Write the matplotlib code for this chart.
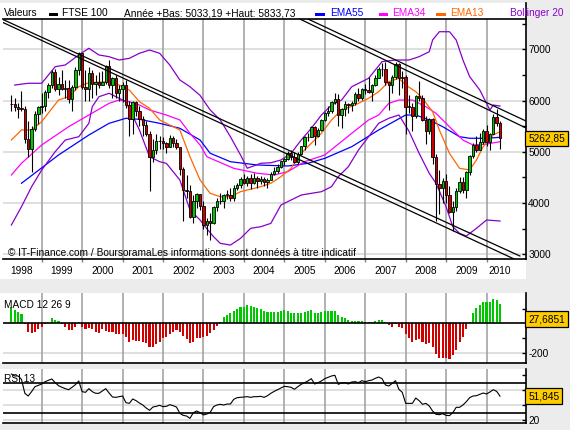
import matplotlib
matplotlib.use("Agg")
import matplotlib.pyplot as plt
from matplotlib.patches import Rectangle
from matplotlib.lines import Line2D
import matplotlib.transforms as mtransforms

plt.rcParams['font.family'] = ['Liberation Sans', 'DejaVu Sans']

# ---------------- data (monthly FTSE 100, Apr 1998 .. May 2010) ----------------
first_month = 3          # months since Jan 1998 (Apr 1998)
years = list(range(1998, 2011))

opens = [5932, 5928, 5870, 5833, 5837, 5249, 5064, 5438, 5743,
         5883, 5896, 6175, 6296, 6552, 6226, 6318, 6231, 6246, 6030, 6255, 6597,
         6930, 6269, 6233, 6540, 6327, 6359, 6313, 6365, 6673, 6294, 6438, 6142,
         6223, 6297, 5918, 5634, 5967, 5796, 5643, 5529, 5345, 4903, 5040, 5204,
         5217, 5165, 5102, 5272, 5166, 5086, 4656, 4246, 4227, 3722, 4039, 4169,
         3940, 3567, 3656, 3613, 3926, 4048, 4031, 4157, 4162, 4091, 4288, 4343,
         4477, 4390, 4492, 4386, 4489, 4431, 4464, 4413, 4459, 4571, 4624, 4703,
         4814, 4852, 4968, 4894, 4801, 4964, 5113, 5282, 5296, 5478, 5317, 5423,
         5619, 5760, 5792, 5965, 6023, 5723, 5833, 5928, 5907, 5961, 6129, 6049,
         6221, 6203, 6172, 6308, 6449, 6621, 6608, 6360, 6303, 6467, 6722, 6432,
         6457, 5880, 5884, 5702, 6087, 6054, 5626, 5412, 5637, 4902, 4377, 4288,
         4434, 4150, 3830, 3926, 4244, 4418, 4249, 4608, 4909, 5134, 5045, 5191,
         5413, 5189, 5355, 5680, 5553]
highs = [6105, 6058, 5950, 6183, 5900, 5600, 5500, 5800, 5900,
         6150, 6200, 6350, 6600, 6620, 6450, 6600, 6400, 6400, 6300, 6650, 6950,
         6930, 6600, 6650, 6600, 6500, 6550, 6570, 6700, 6800, 6450, 6500, 6300,
         6360, 6400, 5990, 6000, 6000, 5900, 5700, 5600, 5400, 5250, 5350, 5300,
         5280, 5200, 5330, 5300, 5250, 5100, 4700, 4550, 4350, 4150, 4200, 4180,
         4050, 3700, 3800, 3950, 4100, 4200, 4170, 4250, 4300, 4350, 4400, 4500,
         4560, 4530, 4560, 4580, 4530, 4530, 4500, 4480, 4610, 4700, 4770, 4830,
         4880, 5010, 5030, 5000, 4990, 5120, 5300, 5370, 5500, 5500, 5460, 5640,
         5780, 5890, 5990, 6140, 6137, 5850, 5990, 5950, 6000, 6170, 6250, 6250,
         6320, 6460, 6330, 6500, 6650, 6730, 6750, 6370, 6500, 6750, 6730, 6580,
         6500, 6100, 5950, 6100, 6380, 6100, 5700, 5660, 5650, 4950, 4650, 4480,
         4560, 4340, 4050, 4300, 4510, 4510, 4620, 4930, 5170, 5300, 5370, 5440,
         5530, 5370, 5740, 5834, 5600]
lows = [5800, 5800, 5650, 5800, 5170, 4900, 4610, 5400, 5550,
        5750, 5800, 6050, 6250, 6180, 6100, 6200, 6050, 5950, 5800, 6200, 6500,
        6220, 6000, 6000, 6050, 6100, 6250, 6300, 6330, 6250, 6050, 6050, 6000,
        5980, 5850, 5300, 5350, 5700, 5500, 5300, 5300, 4230, 4800, 4950, 5050,
        5050, 4980, 5090, 5100, 5050, 4550, 3650, 4100, 3700, 3610, 3900, 3870,
        3490, 3380, 3277, 3600, 3850, 3990, 3900, 4070, 4050, 4050, 4250, 4300,
        4370, 4340, 4280, 4370, 4300, 4380, 4330, 4300, 4450, 4550, 4590, 4690,
        4750, 4840, 4850, 4790, 4770, 4930, 5040, 5220, 5290, 5130, 5290, 5400,
        5600, 5700, 5760, 5930, 5500, 5470, 5700, 5760, 5800, 5920, 6000, 6020,
        6130, 6150, 5990, 6290, 6440, 6480, 6300, 5820, 6150, 6420, 6100, 6250,
        5340, 5750, 5410, 5650, 6000, 5600, 5150, 5350, 4770, 3660, 3780, 4000,
        4000, 3800, 3460, 3850, 4200, 4200, 4090, 4550, 4880, 4990, 5030, 5160,
        5120, 5033, 5340, 5500, 5050]
closes = [5928, 5870, 5833, 5837, 5249, 5064, 5438, 5743, 5883,
          5896, 6175, 6296, 6552, 6226, 6318, 6231, 6246, 6030, 6255, 6597, 6930,
          6269, 6233, 6540, 6327, 6359, 6313, 6365, 6673, 6294, 6438, 6142, 6223,
          6297, 5918, 5634, 5967, 5796, 5643, 5529, 5345, 4903, 5040, 5204, 5217,
          5165, 5102, 5272, 5166, 5086, 4656, 4246, 4227, 3722, 4039, 4169, 3940,
          3567, 3656, 3613, 3926, 4048, 4031, 4157, 4162, 4091, 4288, 4343, 4477,
          4390, 4492, 4386, 4489, 4431, 4464, 4413, 4459, 4571, 4624, 4703, 4814,
          4852, 4968, 4894, 4801, 4964, 5113, 5282, 5296, 5478, 5317, 5423, 5619,
          5760, 5792, 5965, 6023, 5723, 5833, 5928, 5907, 5961, 6129, 6049, 6221,
          6203, 6172, 6308, 6449, 6621, 6608, 6360, 6303, 6467, 6722, 6432, 6457,
          5880, 5884, 5702, 6087, 6054, 5626, 5412, 5637, 4902, 4377, 4288, 4434,
          4150, 3830, 3926, 4244, 4418, 4249, 4608, 4909, 5134, 5045, 5191, 5413,
          5189, 5355, 5680, 5553, 5263]

ema55_m = [6, 17, 26, 32, 37, 41, 47, 53, 59, 62, 68, 76, 85, 91, 96, 104, 112, 120, 123, 127, 131, 136, 139, 144, 148]
ema55_v = [4386, 4938, 5328, 5556, 5654, 5634, 5556, 5459, 5230, 4971, 4807, 4743, 4723, 4776, 4873, 5100, 5426, 5718, 5718, 5621, 5490, 5295, 5264, 5264, 5283]

ema34_m = [3, 6, 12, 20, 26, 32, 35, 38, 41, 44, 49, 53, 56, 59, 61, 69, 76, 81, 85, 90, 96, 104, 109, 112, 115, 118, 122, 126, 129, 133, 137, 140, 144, 148]
ema34_v = [4547, 4776, 5133, 5490, 5718, 5946, 6011, 5978, 5913, 5816, 5718, 5621, 5361, 5133, 4905, 4678, 4581, 4548, 4612, 4807, 4938, 5361, 5621, 5718, 5946, 6011, 6011, 5880, 5751, 5490, 5230, 5133, 5152, 5197]

ema13_m = [3, 6, 9, 12, 17, 20, 23, 26, 32, 35, 38, 41, 44, 47, 50, 53, 56, 59, 62, 65, 68, 71, 77, 80, 83, 86, 89, 92, 95, 98, 101, 105, 109, 112, 115, 118, 120, 123, 125, 128, 130, 133, 136, 139, 141, 143, 146, 148]
ema13_v = [5230, 5426, 5426, 5588, 6011, 6075, 6270, 6348, 6368, 6303, 6206, 5978, 5849, 5621, 5523, 5426, 4905, 4450, 4190, 4124, 4124, 4222, 4320, 4386, 4515, 4678, 4971, 5166, 5361, 5621, 5816, 5913, 6044, 6173, 6368, 6434, 6303, 6173, 6044, 5783, 5426, 4971, 4678, 4646, 4840, 5100, 5328, 5393]

boll_up_m = [4, 8, 12, 16, 19, 23, 26, 29, 32, 35, 38, 41, 44, 47, 50, 53, 56, 59, 62, 65, 68, 71, 73, 77, 80, 83, 86, 89, 92, 95, 98, 101, 104, 109, 113, 117, 121, 124, 127, 128, 130, 133, 135, 137, 139, 142, 144, 145, 146, 148]
boll_up_v = [6303, 6337, 6337, 6660, 6694, 6889, 7020, 6889, 6856, 6791, 6824, 6922, 6986, 6922, 6694, 6401, 6270, 6100, 5816, 5621, 5295, 4938, 4680, 4776, 4787, 4840, 4971, 5230, 5459, 5718, 5913, 6011, 6270, 6434, 6759, 6791, 6791, 6856, 6953, 7181, 7343, 7343, 7181, 6791, 6466, 6206, 5946, 5816, 5913, 5893]

boll_lo_m = [3, 6, 9, 12, 16, 19, 23, 26, 27, 29, 32, 37, 41, 44, 47, 49, 53, 56, 59, 61, 63, 65, 68, 71, 74, 77, 80, 83, 86, 89, 92, 95, 98, 100, 103, 106, 109, 112, 115, 118, 121, 124, 127, 129, 132, 134, 136, 138, 141, 144, 148]
boll_lo_v = [3572, 3929, 4319, 4645, 5002, 5230, 5295, 5556, 5880, 6075, 6142, 5978, 5426, 4905, 4807, 4775, 4450, 3864, 3670, 3500, 3344, 3214, 3181, 3312, 3507, 3539, 3604, 3962, 4060, 4157, 4190, 4222, 4320, 4515, 4710, 5035, 5295, 5556, 5654, 5718, 5400, 4971, 4581, 4386, 3929, 3539, 3409, 3357, 3507, 3670, 3650]

macd_hist = [113, 91, 75, 63, -3, -57, -68, -57, -41, -27,
             -7, 7, 34, 23, 16, -2, -23, -45, -45, -23,
             9, -23, -41, -34, -41, -57, -63, -41, -50, -57,
             -57, -75, -75, -75, -91, -125, -113, -118, -118, -129,
             -136, -159, -159, -141, -125, -102, -91, -75, -57, -45,
             -57, -86, -109, -136, -125, -102, -102, -91, -86, -68,
             -45, -16, 11, 45, 57, 68, 86, 98, 109, 113,
             125, 118, 109, 102, 95, 82, 79, 79, 79, 79,
             86, 91, 86,
             73, 73, 73, 73, 79, 86, 91, 68, 68, 79,
             86, 86, 86, 86, 57, 45, 34, 23, 18, 18,
             16, 16, 11, 11, 9, 18, 23, 23, 9,
             -11, -23, -7, -23, -29, -73, -98, -125, -113, -109,
             -125, -141, -136, -163, -211, -238, -234, -234, -243, -215,
             -181, -125, -91, -41, 11, 68, 102, 125, 143, 143,
             143, 163, 159, 132]
macd_last = 27.6851

rsi13 = [81.3, 78.7, 78.7, 74.2, 55.6, 52, 57.8, 64.4, 66.2, 68,
         71.1, 72.9, 74.7, 69.8, 65.8, 63.6, 61.8, 60.4, 63.6, 67.1,
         72, 57.8, 56.9, 61.8, 57.8, 55.6, 55.6, 58.7, 61.8, 56,
         50.7, 50.2, 51.1, 52, 43.1, 42.2, 48, 45.8, 42.7, 40,
         36, 32.9, 37.3, 38.2, 39.6, 37.8, 38.2, 40.4, 39.1, 37.3,
         28.9, 26.2, 25.3, 22.2, 29.8, 32, 29.8, 26.7, 28, 30.2,
         37.8, 40, 40.9, 40, 41.3, 41.3, 47.6, 49.8, 50.2, 50.7,
         51.1, 50.2, 51.1, 51.1, 51.6, 50.2, 52.4, 55.6, 58.2, 60.4,
         62.7, 64.9, 64.4,
         63.6, 60.9, 64.4, 67.6, 69.8, 72, 75.1, 68, 69.8, 72,
         75.1, 76.9, 78.7, 79.6, 67.6, 69.3, 69.8, 68, 70.7, 71.1,
         69.8, 72.4, 71.1, 72.4, 73.3, 75.6, 77.3, 75.1, 66.7, 65.3,
         68.9, 72.4, 60.9, 56.9, 42.2, 42.2, 42.2, 49.3, 45.8, 40.9,
         42.2, 38.7, 32, 27.6, 27.1, 28.4, 26.2, 25.8, 29.8, 36.9,
         36.9, 40, 44.4, 49.8, 52, 52.4, 54.2, 56, 54.7, 57.3,
         60.4, 58.2, 51.845]
rsi_last = 51.845
last_close = 5262.85

# channel lines (month, value) end points
chan1a = ([0.5, 153.9], [7581, 2967])
chan1b = ([0.5, 152.2], [7523, 2909])
chan2a = ([91.0, 155.7], [7591, 5601])
chan2b = ([88.6, 155.7], [7591, 5465])

# ---------------- layout helpers ----------------
W, H = 570, 430
fig = plt.figure(figsize=(W / 100, H / 100), dpi=100)
fig.patch.set_facecolor('#ececec')


def rect(x0, y0, x1, y1):
    return [x0 / W, 1 - y1 / H, (x1 - x0) / W, (y1 - y0) / H]


def fig_rect(x0, y0, x1, y1, color, z=-5):
    fig.patches.append(Rectangle((x0 / W, 1 - y1 / H), (x1 - x0) / W, (y1 - y0) / H,
                                 transform=fig.transFigure, facecolor=color,
                                 edgecolor='none', zorder=z))


def ftext(x, y, s, **kw):
    kw.setdefault('fontsize', 7.3)
    fig.text(x / W, 1 - y / H, s, va='center', ha=kw.pop('ha', 'left'), **kw)


for box in [(0, 3, 526, 279), (0, 293, 526, 363), (0, 369, 526, 423.5)]:
    fig_rect(*box, color='white')

PX0, PXM = 1.25, 3.37          # pixel of Jan 1998, pixels per month
xl = ((3 - PX0) / PXM, (526 - PX0) / PXM)
months = list(range(first_month, first_month + len(closes)))
year_starts = [12 * (y - 1998) for y in years]

GREEN, RED = '#00c800', '#d00000'
GRID_V = '#a4a4a4'
GRID_H = '#dcdcdc'
BOX = '#ffcc00'


def base_axes(r, ylim):
    ax = fig.add_axes(rect(*r))
    ax.set_facecolor('none')
    ax.set_xlim(*xl)
    ax.set_ylim(*ylim)
    for s in ['left', 'top']:
        ax.spines[s].set_visible(False)
    for s in ['right', 'bottom']:
        ax.spines[s].set_color('black')
        ax.spines[s].set_linewidth(1.2)
    for xs in year_starts[1:]:
        ax.axvline(xs, color=GRID_V, lw=1.2, zorder=0.5)
    ax.yaxis.tick_right()
    ax.tick_params(axis='y', direction='in', length=3, width=1, color='black',
                   labelsize=7.3, pad=1.5)
    ax.set_xticks([])
    return ax


def value_box(ax, y, s):
    tr = mtransforms.blended_transform_factory(ax.transAxes, ax.transData)
    ax.text(1.0 + 2.2 / 523, y, s, transform=tr, ha='left', va='center', fontsize=7.3,
            bbox=dict(boxstyle='square,pad=0.28', fc=BOX, ec='black', lw=0.9),
            zorder=10, clip_on=False)


# ---------------- main price panel ----------------
ax = base_axes((3, 19, 526, 259), (2909, 7591))
ax.spines['top'].set_visible(True)
ax.spines['top'].set_color('black')
ax.spines['top'].set_linewidth(1.2)
for v in [3000, 4000, 5000, 6000, 7000]:
    ax.axhline(v, color=GRID_H, lw=1.3, zorder=0.4)
ax.set_yticks([3000, 4000, 5000, 6000, 7000])
ax.set_yticklabels(['3000', '4000', '5000', '6000', '7000'])
ax.set_yticks([3500, 4500, 5500, 6500, 7500], minor=True)
ax.tick_params(axis='y', which='minor', direction='in', length=3, width=1)
ax.set_xticks(year_starts[1:])
ax.set_xticklabels([])
ax.tick_params(axis='x', direction='out', length=2.5, width=1, color='#808080')

ax.plot(ema55_m, ema55_v, color='#0000ff', lw=0.9, zorder=2)
ax.plot(ema34_m, ema34_v, color='#ff00ff', lw=0.9, zorder=2)
ax.plot(ema13_m, ema13_v, color='#ff6600', lw=0.9, zorder=2)
ax.plot(boll_up_m, boll_up_v, color='#8800cc', lw=0.9, zorder=2)
ax.plot(boll_lo_m, boll_lo_v, color='#8800cc', lw=0.9, zorder=2)

ax.vlines(months, lows, highs, color='black', lw=0.8, zorder=3)
bottoms = [min(o, c) for o, c in zip(opens, closes)]
heights = [max(abs(c - o), 14) for o, c in zip(opens, closes)]
cols = [GREEN if c >= o else RED for o, c in zip(opens, closes)]
ax.bar(months, heights, bottom=bottoms, width=0.72, color=cols, edgecolor='black',
       linewidth=0.6, zorder=4)

for xs, ys in [chan1a, chan1b, chan2a, chan2b]:
    ax.plot(xs, ys, color='black', lw=0.9, zorder=5)

value_box(ax, last_close, '5262,85')
ax.text(0.01, 2909 + 22, '\u00a9 IT-Finance.com / BoursoramaLes informations sont données à titre indicatif',
        transform=mtransforms.blended_transform_factory(ax.transAxes, ax.transData),
        fontsize=7.3, va='bottom', ha='left', zorder=6)

# year labels
for y in years:
    cx = 12 * (y - 1998) + 6
    if y == 2010:
        cx = 148.0
    px = PX0 + PXM * cx
    ftext(px, 270.5, str(y), ha='center')

# ---------------- header ----------------
ftext(4, 13.5, 'Valeurs')
fig_rect(49.3, 12.6, 58.3, 15.8, 'black', z=5)
ftext(61.5, 13.5, 'FTSE 100')
ftext(124, 13.5, 'Année +Bas: 5033,19 +Haut: 5833,73')
legend_items = [(315, 330.5, '#0000ff', 'EMA55'), (378.5, 392.5, '#ff00ff', 'EMA34'),
                (436, 450, '#ff6600', 'EMA13')]
for rx, tx, c, lab in legend_items:
    fig_rect(rx, 12.6, rx + 9.5, 15.8, c, z=5)
    ftext(tx, 13.5, lab, color=c)
ftext(510, 13.5, 'Bollinger 20', color='#8800cc')
fig.lines.append(Line2D([526 / W, 526 / W], [1 - 3 / H, 1 - 19 / H], color='black', lw=1.2,
                        transform=fig.transFigure))

# ---------------- MACD panel ----------------
axm = base_axes((3, 293, 526, 362.7), (-268, 206))
axm.axhline(-200, color=GRID_H, lw=1.3, zorder=0.4)
axm.axhline(0, color='black', lw=1.2, zorder=3)
axm.bar(months, macd_hist, width=0.62, color=[GREEN if v >= 0 else RED for v in macd_hist],
        linewidth=0, zorder=2)
axm.set_yticks([100, -100, -200])
axm.set_yticklabels(['', '', '-200'])
value_box(axm, macd_last, '27,6851')
ftext(4.5, 305, 'MACD 12 26 9')

# ---------------- RSI panel ----------------
axr = base_axes((3, 369, 526, 423.3), (15.6, 88))
for v in [60, 40, 20]:
    axr.axhline(v, color=GRID_H, lw=1.3, zorder=0.4)
for v in [70, 30]:
    axr.axhline(v, color='black', lw=1.2, zorder=1)
axr.plot(months, rsi13, color='black', lw=0.8, zorder=3)
axr.set_yticks([80, 60, 40, 20])
axr.set_yticklabels(['', '', '', '20'])
value_box(axr, rsi_last, '51,845')
ftext(4, 379, 'RSI 13')

fig.savefig('out.png', dpi=100, facecolor=fig.get_facecolor())
